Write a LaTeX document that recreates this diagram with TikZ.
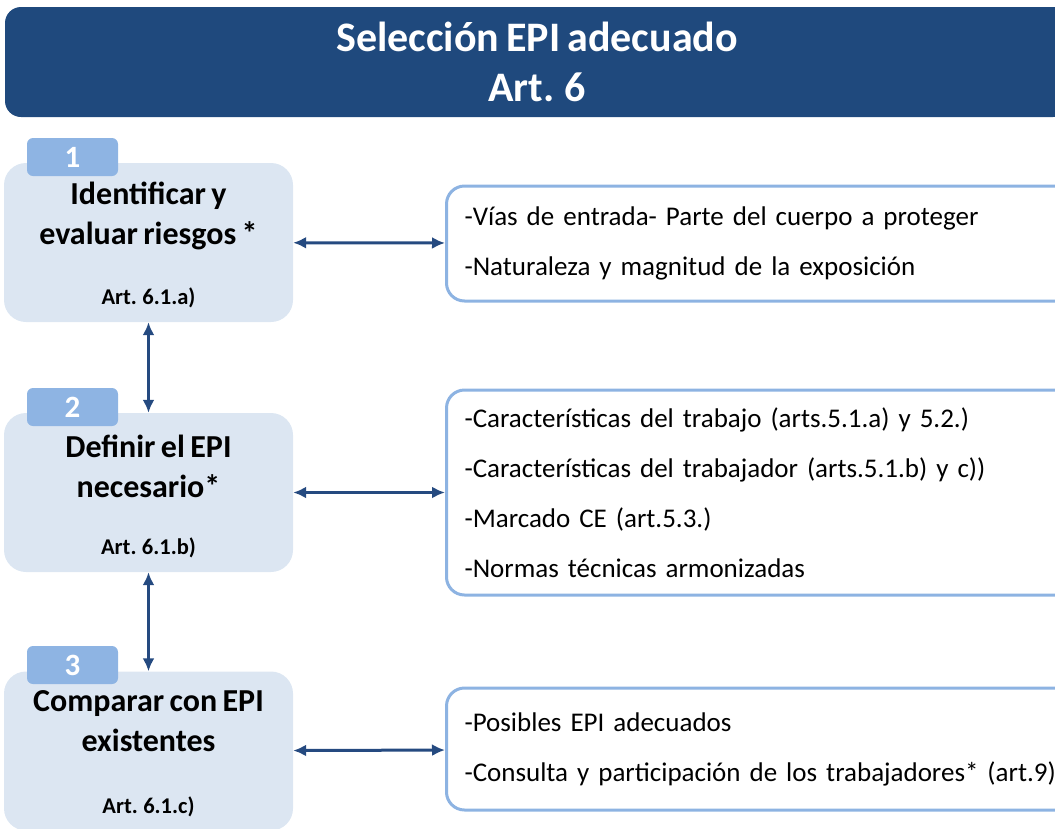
\documentclass[tikz,border=0pt]{standalone}
\usepackage{fontspec}
\setmainfont{Carlito}[WordSpace=0.75]
\usetikzlibrary{arrows.meta}
\definecolor{titleblue}{RGB}{31,73,125}
\definecolor{stepfill}{RGB}{220,230,242}
\definecolor{tabfill}{RGB}{142,180,227}
\definecolor{infoline}{RGB}{141,179,226}
\definecolor{arrowblue}{RGB}{37,74,128}
\begin{document}
\begin{tikzpicture}[x=1pt, y=-1pt,
  >={Latex[length=13pt,width=12pt]},
  titlebox/.style={fill=titleblue, rounded corners=16pt, minimum width=1064pt, minimum height=110pt, inner sep=0pt, text=white, align=center, font=\bfseries\fontsize{42}{50}\selectfont},
  stepbox/.style={fill=stepfill, rounded corners=22pt, minimum width=289pt, minimum height=159pt, inner sep=0pt},
  tabbox/.style={fill=tabfill, rounded corners=6pt, minimum width=91pt, minimum height=38pt, inner sep=0pt, text=white, font=\bfseries\fontsize{31}{31}\selectfont},
  steptext/.style={align=center, font=\bfseries\fontsize{32}{40}\selectfont},
  arttext/.style={font=\bfseries\fontsize{22.5}{24}\selectfont},
  infobox/.style={anchor=west, draw=infoline, line width=3pt, fill=white, rounded corners=18pt, inner xsep=18pt, inner ysep=0pt, text width=598pt, align=left, font=\fontsize{27}{50}\selectfont},
  link/.style={<->, arrowblue, line width=3pt}]
\useasboundingbox (0,0) rectangle (1055,828);

\node (title) [titlebox] at (537,62) {Selección EPI adecuado\\Art. 6};

% left column
\node (s1) [stepbox] at (148.5,242.5) {};
\node (s2) [stepbox] at (148.5,492.5) {};
\node (s3) [stepbox] at (148.5,751) {};
\node (t1) [tabbox] at (72.5,157) {1};
\node (t2) [tabbox] at (72.5,407) {2};
\node (t3) [tabbox] at (72.5,665) {3};
\node (s1text) [steptext] at (148.5,216) {Identificar y\\evaluar riesgos *};
\node (s2text) [steptext] at (148.5,466) {Definir el EPI\\necesario*};
\node (s3text) [steptext] at (148.5,721) {Comparar con EPI\\existentes};
\node (s1art) [arttext] at (148.5,298) {Art. 6.1.a)};
\node (s2art) [arttext] at (148.5,548) {Art. 6.1.b)};
\node (s3art) [arttext] at (148.5,807) {Art. 6.1.c)};

% right column
\node (i1) [infobox, minimum height=115pt] at (445,243.5) {-Vías de entrada- Parte del cuerpo a proteger\\-Naturaleza y magnitud de la exposición};
\node (i2) [infobox, minimum height=205pt] at (445,492.5) {-Características del trabajo (arts.5.1.a) y 5.2.)\\-Características del trabajador (arts.5.1.b) y c))\\-Marcado CE (art.5.3.)\\-Normas técnicas armonizadas};
\node (i3) [infobox, minimum height=122pt] at (445,749) {-Posibles EPI adecuados\\-Consulta y participación de los trabajadores* (art.9)};

\draw [link] (s1) -- (i1);
\draw [link] (s2) -- (i2);
\draw [link] (s3) -- (i3);
\draw [link] (s1.south) -- (s2.north);
\draw [link] (s2.south) -- (s3.north);
\end{tikzpicture}
\end{document}
